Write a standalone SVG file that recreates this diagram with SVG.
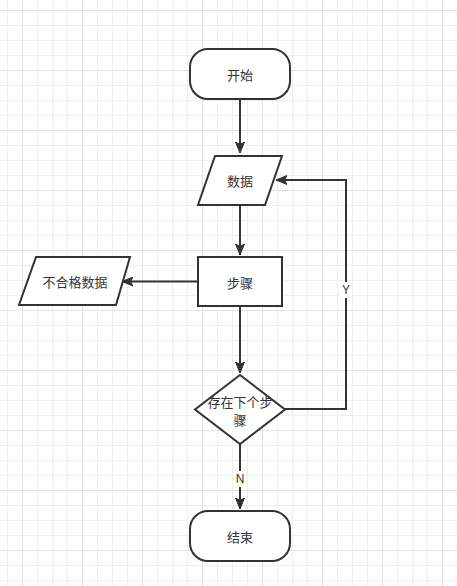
<svg xmlns="http://www.w3.org/2000/svg" width="457" height="586" viewBox="0 0 457 586">
<defs>
<pattern id="grid" x="22" y="10" width="60" height="60" patternUnits="userSpaceOnUse">
<rect x="15" y="0" width="1" height="60" fill="#efefef"/>
<rect x="30" y="0" width="1" height="60" fill="#efefef"/>
<rect x="45" y="0" width="1" height="60" fill="#efefef"/>
<rect x="0" y="15" width="60" height="1" fill="#efefef"/>
<rect x="0" y="30" width="60" height="1" fill="#efefef"/>
<rect x="0" y="45" width="60" height="1" fill="#efefef"/>
<rect x="0" y="0" width="1" height="60" fill="#e2e2e2"/>
<rect x="0" y="0" width="60" height="1" fill="#e2e2e2"/>
</pattern>
<marker id="arrow" markerWidth="12" markerHeight="10" refX="11" refY="5" orient="auto" markerUnits="userSpaceOnUse">
<path d="M0,0.5 L11,5 L0,9.5 L2.5,5 Z" fill="#333333" stroke="#333333" stroke-width="1"/>
</marker>
</defs>
<style>
.shape{fill:#ffffff;stroke:#333333;stroke-width:2}
.lbl{font-family:"Noto Sans CJK SC","Liberation Sans",sans-serif;font-size:13px;fill:#333333;text-anchor:middle;dominant-baseline:central}
.edge{fill:none;stroke:#333333;stroke-width:2}
.elbl{font-family:"Liberation Sans",sans-serif;font-size:12px;fill:#333333;text-anchor:middle;dominant-baseline:central}
</style>
<rect width="457" height="586" fill="#ffffff"/>
<rect width="457" height="586" fill="url(#grid)"/>
<g id="connectors">
<path class="edge" d="M240,99 L240,153" marker-end="url(#arrow)"/>
<path class="edge" d="M240,205 L240,255" marker-end="url(#arrow)"/>
<path class="edge" d="M198,281.5 L122,281.5" marker-end="url(#arrow)"/>
<path class="edge" d="M240,306 L240,373" marker-end="url(#arrow)"/>
<path class="edge" d="M285,409 L346,409 L346,180 L276,180" marker-end="url(#arrow)"/>
<path class="edge" d="M240,444 L240,509" marker-end="url(#arrow)"/>
<rect x="340" y="282" width="12" height="16" fill="#ffffff"/>
<text class="elbl" x="346" y="290">Y</text>
<rect x="234" y="471" width="12" height="16" fill="#ffffff"/>
<text class="elbl" x="240" y="479">N</text>
</g>
<g id="start">
<rect class="shape" x="190" y="49" width="100" height="50" rx="18" ry="18"/>
<text class="lbl" x="240" y="74">开始</text>
</g>
<g id="data">
<polygon class="shape" points="215,156 282,156 265,205 198,205"/>
<text class="lbl" x="240" y="180">数据</text>
</g>
<g id="step">
<rect class="shape" x="198" y="257" width="84" height="49"/>
<text class="lbl" x="240" y="282">步骤</text>
</g>
<g id="bad-data">
<polygon class="shape" points="36,257 130,257 116,305 19,305"/>
<text class="lbl" x="75" y="281">不合格数据</text>
</g>
<g id="decision">
<polygon class="shape" points="240,375 285,409.5 240,444 195,409.5"/>
<text class="lbl" x="240" y="401">存在下个步<tspan x="240" dy="18">骤</tspan></text>
</g>
<g id="end">
<rect class="shape" x="190" y="511" width="100" height="50" rx="18" ry="18"/>
<text class="lbl" x="240" y="536">结束</text>
</g>
</svg>
